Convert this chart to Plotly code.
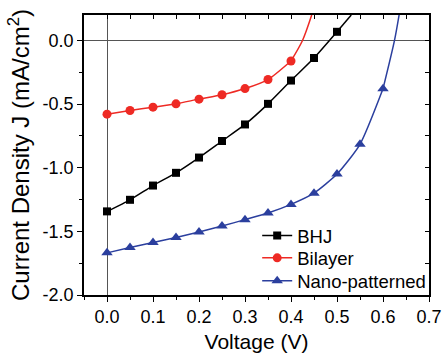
import plotly.graph_objects as go

# ---- data ----
voltage = [0.0, 0.05, 0.10, 0.15, 0.20, 0.25, 0.30, 0.35, 0.40, 0.45, 0.50, 0.55, 0.60]
j_bhj = [-1.343, -1.252, -1.14, -1.04, -0.92, -0.79, -0.66, -0.498, -0.315, -0.138, 0.068]
j_bilayer = [-0.579, -0.55, -0.524, -0.498, -0.461, -0.427, -0.378, -0.307, -0.161]
j_nano = [-1.669, -1.627, -1.588, -1.549, -1.505, -1.458, -1.408, -1.356, -1.288,
          -1.20, -1.05, -0.816, -0.38]

# continuation of each fitted curve beyond the last marker
tail_bhj_v = [0.50, 0.531]
tail_bhj_j = [0.068, 0.2]
tail_bilayer_v = [0.40, 0.425, 0.445]
tail_bilayer_j = [-0.161, 0.0, 0.2]
tail_nano_v = [0.60, 0.625, 0.635]
tail_nano_j = [-0.38, 0.0, 0.2]

x_tick_vals = [0.0, 0.1, 0.2, 0.3, 0.4, 0.5, 0.6, 0.7]
x_tick_text = ["0.0", "0.1", "0.2", "0.3", "0.4", "0.5", "0.6", "0.7"]
y_tick_vals = [0.0, -0.5, -1.0, -1.5, -2.0]
y_tick_text = ["0.0", "-0.5", "-1.0", "-1.5", "-2.0"]

x_range = [-0.05, 0.7]
y_range = [-2.0, 0.2]

BLACK = "#000000"
RED = "#ee2a24"
BLUE = "#2b3f9e"
FONT = "Liberation Sans, Arial, sans-serif"

series = [
    ("BHJ", j_bhj, tail_bhj_v, tail_bhj_j, BLACK, "square", 8, "legend"),
    ("Bilayer", j_bilayer, tail_bilayer_v, tail_bilayer_j, RED, "circle", 9, "legend2"),
    ("Nano-patterned", j_nano, tail_nano_v, tail_nano_j, BLUE, "triangle-up", 10, "legend3"),
]

fig = go.Figure()
for name, jv, tv, tj, col, sym, sz, leg in series:
    fig.add_trace(go.Scatter(
        x=tv, y=tj, mode="lines", showlegend=False, hoverinfo="skip",
        line=dict(color=col, width=1.5, shape="spline", smoothing=0.8),
    ))
    fig.add_trace(go.Scatter(
        x=voltage[:len(jv)], y=jv, mode="lines+markers", name=name, legend=leg,
        line=dict(color=col, width=1.5, shape="spline", smoothing=0.6),
        marker=dict(symbol=sym, size=sz, color=col),
    ))

# invisible trace to hold the mirrored (top/right) axes
fig.add_trace(go.Scatter(x=[None], y=[None], xaxis="x2", yaxis="y2",
                         showlegend=False, hoverinfo="skip"))

axis_common = dict(showgrid=False, linecolor="black", linewidth=1.5,
                   tickcolor="black", tickwidth=1.2, automargin=False)

leg_common = dict(x=0.502, xanchor="left", yanchor="middle",
                  bgcolor="rgba(0,0,0,0)", font=dict(size=18.5), itemwidth=30)

fig.update_layout(
    width=442, height=354,
    margin=dict(l=83.5, r=12.5, t=14.7, b=58.7, autoexpand=False),
    paper_bgcolor="white", plot_bgcolor="white",
    font=dict(family=FONT, size=18, color="black"),
    showlegend=True,
    legend=dict(y=0.211, **leg_common),
    legend2=dict(y=0.131, **leg_common),
    legend3=dict(y=0.049, **leg_common),
    xaxis=dict(
        range=x_range, tickmode="array", tickvals=x_tick_vals, ticktext=x_tick_text,
        ticks="outside", ticklen=5,
        minor=dict(tickmode="array", tickvals=[-0.05, 0.05, 0.15, 0.25, 0.35, 0.45, 0.55, 0.65],
                   ticks="outside", ticklen=3, tickcolor="black"),
        zeroline=True, zerolinecolor="#555555", zerolinewidth=1,
        title=dict(text="Voltage (V)", font=dict(size=21), standoff=8),
        **axis_common,
    ),
    yaxis=dict(
        range=y_range, tickmode="array", tickvals=y_tick_vals, ticktext=y_tick_text,
        ticks="outside", ticklen=5,
        minor=dict(tickmode="array", tickvals=[-0.25, -0.75, -1.25, -1.75],
                   ticks="outside", ticklen=3, tickcolor="black"),
        zeroline=True, zerolinecolor="#555555", zerolinewidth=1,
        title=dict(text="Current Density J (mA/cm<sup>2</sup>)", font=dict(size=24), standoff=6),
        **axis_common,
    ),
    xaxis2=dict(range=x_range, overlaying="x", side="top", anchor="y",
                tickmode="linear", tick0=-0.05, dtick=0.05, ticks="inside", ticklen=4,
                showticklabels=False, zeroline=False, **axis_common),
    yaxis2=dict(range=y_range, overlaying="y", side="right", anchor="x",
                tickmode="linear", tick0=0, dtick=0.25, ticks="inside", ticklen=4,
                showticklabels=False, zeroline=False, **axis_common),
)

fig.write_html("out.html", config={"displayModeBar": False},
               post_script="document.body.style.margin='0px';")
